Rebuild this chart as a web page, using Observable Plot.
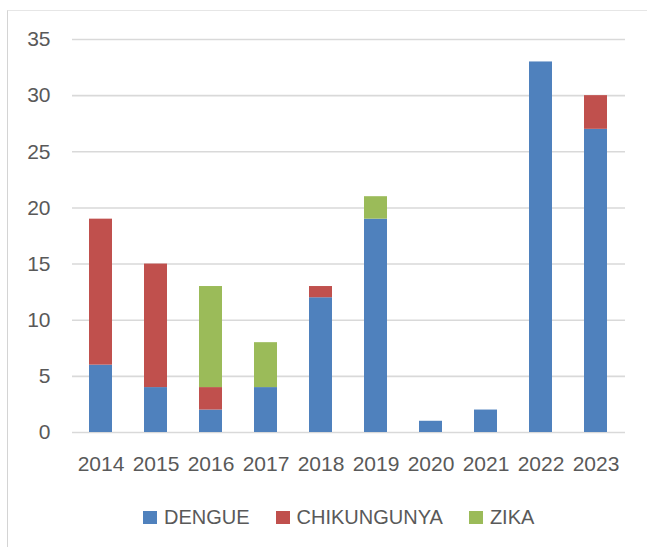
<!DOCTYPE html>
<html>
<head>
<meta charset="utf-8">
<script src="https://cdn.jsdelivr.net/npm/d3@7"></script>
<script src="https://cdn.jsdelivr.net/npm/@observablehq/plot@0.6"></script>
<style>
  html, body { margin: 0; padding: 0; background: #fff; }
  #wrap { position: relative; width: 647px; height: 547px; overflow: hidden; font-family: "Liberation Sans", Arial, sans-serif; }
  #frame { position: absolute; left: 7px; top: 10px; width: 700px; height: 600px; border-left: 1.5px solid #d4d4d4; border-top: 1px solid #e6e6e6; box-sizing: border-box; }
  #chart { position: absolute; left: 0; top: 0; }
  #legend { position: absolute; left: 143px; top: 506px; display: flex; align-items: center; color: #595959; font-size: 20px; }
  .item { display: flex; align-items: center; margin-right: 26px; }
  .sw { width: 14px; height: 13px; margin-right: 7px; }
</style>
</head>
<body>
<div id="wrap">
  <div id="frame"></div>
  <div id="chart"></div>
  <div id="legend"></div>
</div>
<script>
const years = ["2014","2015","2016","2017","2018","2019","2020","2021","2022","2023"];
const dengue = [6, 4, 2, 4, 12, 19, 1, 2, 33, 27];
const chikungunya = [13, 11, 2, 0, 1, 0, 0, 0, 0, 3];
const zika = [0, 0, 9, 4, 0, 2, 0, 0, 0, 0];
const seriesNames = ["DENGUE", "CHIKUNGUNYA", "ZIKA"];
const seriesColors = ["#4f81bd", "#c0504d", "#9bbb59"];
const yTicks = [0, 5, 10, 15, 20, 25, 30, 35];

const seriesValues = [dengue, chikungunya, zika];
const rows = [];
years.forEach((y, i) => {
  seriesNames.forEach((s, j) => {
    const v = seriesValues[j][i];
    if (v > 0) rows.push({year: y, series: s, value: v});
  });
});

const plot = Plot.plot({
  width: 647,
  height: 490,
  marginLeft: 72,
  marginRight: 22,
  marginTop: 39,
  marginBottom: 58,
  style: {fontFamily: "'Liberation Sans', Arial, sans-serif", fontSize: "21px", color: "#595959", background: "transparent"},
  x: {domain: years, paddingInner: 0.58, paddingOuter: 0.29, label: null},
  y: {domain: [0, 35], label: null},
  color: {domain: seriesNames, range: seriesColors},
  marks: [
    Plot.gridY(yTicks, {stroke: "#d9d9d9", strokeOpacity: 1, strokeWidth: 1.6}),
    Plot.axisY(yTicks, {tickSize: 0, tickPadding: 22, label: null, fontSize: 21}),
    Plot.axisX({tickSize: 0, tickPadding: 24, label: null, fontSize: 21}),
    Plot.barY(rows, Plot.stackY({x: "year", y: "value", fill: "series", order: seriesNames}))
  ]
});
document.getElementById("chart").appendChild(plot);

const legend = document.getElementById("legend");
seriesNames.forEach((s, j) => {
  const it = document.createElement("div");
  it.className = "item";
  const sw = document.createElement("div");
  sw.className = "sw";
  sw.style.background = seriesColors[j];
  const t = document.createElement("span");
  t.textContent = s;
  it.appendChild(sw);
  it.appendChild(t);
  legend.appendChild(it);
});
</script>
</body>
</html>
